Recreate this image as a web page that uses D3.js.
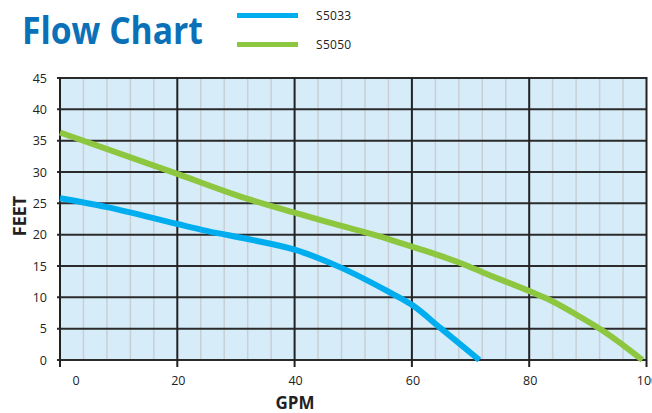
<!DOCTYPE html>
<html>
<head>
<meta charset="utf-8">
<script src="https://cdn.jsdelivr.net/npm/d3@7"></script>
<style>
  html, body { margin: 0; padding: 0; background: #fff; }
  svg { display: block; }
  text { font-family: "Open Sans", "Noto Sans", sans-serif; }
</style>
</head>
<body>
<svg id="chart" width="652" height="413"></svg>
<script>
// ---- data ----
const seriesNames = ["S5033", "S5050"];
const seriesColors = ["#00aeef", "#8dc63f"];
const s5033 = [[0,25.8],[8,24.4],[20,21.7],[25,20.6],[32,19.3],[40,17.6],[48,14.7],[56,10.9],[60,8.8],[65,5.0],[71.5,0]];
const s5050 = [[0,36.3],[20,29.7],[32,25.7],[40,23.5],[48,21.4],[56,19.3],[60,18.1],[69,15.2],[72,14.0],[80,11.0],[83,9.8],[89,6.7],[93,4.4],[99.3,0]];
const xTicks = [0, 20, 40, 60, 80, 100];
const xMinorTicks = d3.range(0, 101, 4);
const yTicks = [0, 5, 10, 15, 20, 25, 30, 35, 40, 45];
const titleText = "Flow Chart";
const xLabel = "GPM";
const yLabel = "FEET";

// ---- layout ----
const svg = d3.select("#chart");
const x = d3.scaleLinear().domain([0, 100]).range([60, 646.5]);
const y = d3.scaleLinear().domain([0, 45]).range([360, 78]);

// title
svg.append("text")
  .attr("x", 22).attr("y", 43.5)
  .attr("font-size", 37).attr("font-weight", 700)
  .attr("fill", "#0a71b8")
  .attr("textLength", 181).attr("lengthAdjust", "spacingAndGlyphs")
  .text(titleText);

// legend
const legendY = [15.5, 44.5];
seriesNames.forEach((name, i) => {
  svg.append("line")
    .attr("x1", 237).attr("x2", 298)
    .attr("y1", legendY[i]).attr("y2", legendY[i])
    .attr("stroke", seriesColors[i]).attr("stroke-width", 5);
  svg.append("text")
    .attr("x", 316).attr("y", legendY[i] + 4.5)
    .attr("font-size", 12).attr("fill", "#222")
    .attr("letter-spacing", 0.3)
    .text(name);
});

// plot background
svg.append("rect")
  .attr("x", x(0)).attr("y", y(45))
  .attr("width", x(100) - x(0)).attr("height", y(0) - y(45))
  .attr("fill", "#d6ecf9");

// minor vertical grid
svg.append("g").selectAll("line")
  .data(xMinorTicks.filter(d => d % 20 !== 0))
  .join("line")
  .attr("x1", d => x(d)).attr("x2", d => x(d))
  .attr("y1", y(45)).attr("y2", y(0))
  .attr("stroke", "#c9cfd5").attr("stroke-width", 1.5);

// horizontal grid
svg.append("g").selectAll("line")
  .data(yTicks)
  .join("line")
  .attr("x1", x(0) - 3).attr("x2", x(100))
  .attr("y1", d => y(d)).attr("y2", d => y(d))
  .attr("stroke", "#2b2b2b").attr("stroke-width", 2);

// major vertical grid (with ticks below)
svg.append("g").selectAll("line")
  .data(xTicks)
  .join("line")
  .attr("x1", d => x(d)).attr("x2", d => x(d))
  .attr("y1", y(45) - 1).attr("y2", y(0) + 7)
  .attr("stroke", "#222").attr("stroke-width", 2);

// y tick labels
svg.append("g").selectAll("text")
  .data(yTicks)
  .join("text")
  .attr("x", 47).attr("y", d => y(d) + 4.5)
  .attr("text-anchor", "end")
  .attr("font-size", 12.5).attr("fill", "#222")
  .text(d => d);

// x tick labels
svg.append("g").selectAll("text")
  .data(xTicks)
  .join("text")
  .attr("x", d => d === 0 ? x(d) + 16 : x(d) + 1)
  .attr("y", 384.5)
  .attr("text-anchor", "middle")
  .attr("font-size", 12.5).attr("fill", "#222")
  .text(d => d);

// axis titles
svg.append("text")
  .attr("x", 295).attr("y", 409)
  .attr("text-anchor", "middle")
  .attr("font-size", 17).attr("font-weight", 700).attr("fill", "#222")
  .text(xLabel);
svg.append("text")
  .attr("transform", "translate(25.5,216) rotate(-90)")
  .attr("text-anchor", "middle")
  .attr("font-size", 18).attr("font-weight", 700).attr("fill", "#222")
  .text(yLabel);

// curves
const line = d3.line()
  .x(d => x(d[0])).y(d => y(d[1]))
  .curve(d3.curveMonotoneX);
[s5033, s5050].forEach((data, i) => {
  svg.append("path")
    .datum(data)
    .attr("d", line)
    .attr("fill", "none")
    .attr("stroke", seriesColors[i])
    .attr("stroke-width", 6)
    .attr("stroke-linejoin", "round");
});
</script>
</body>
</html>
